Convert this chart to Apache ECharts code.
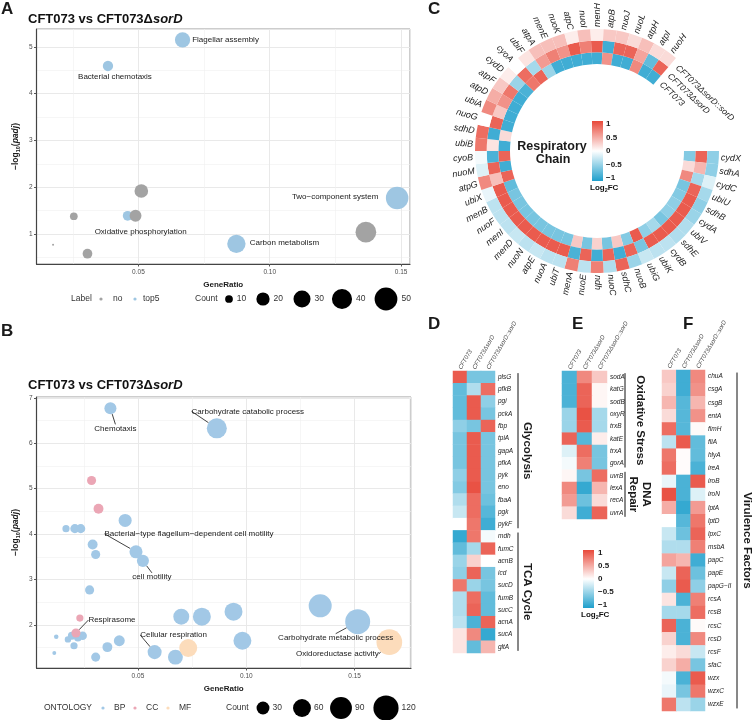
<!DOCTYPE html>
<html><head><meta charset="utf-8"><title>CFT073 vs CFT073 sorD</title>
<script src="https://cdn.jsdelivr.net/npm/echarts@6.0.0/dist/echarts.min.js"></script>
<style>html,body{margin:0;padding:0;background:#fff;}#chart{width:753px;height:720px;}</style>
</head><body><div id="chart"></div>
<script>
// ================= DATA =================
// Panel A: KEGG enrichment
const aTerm = ['Flagellar assembly','Bacterial chemotaxis','','','Oxidative phosphorylation','','','','Carbon metabolism','','Two\u2212component system'];
const aGeneRatio = [0.0668,0.0384,0.0511,0.0254,0.0459,0.0489,0.0175,0.0306,0.0873,0.1366,0.1485];
const aNegLogPadj = [5.15,4.59,1.92,1.38,1.39,1.39,0.77,0.58,0.79,1.04,1.77];
const aCount = [25,14,21,10,13,17,5,13,34,42,49];
const aLabelGroup = ['top5','top5','no','no','top5','no','no','no','top5','no','top5'];
const aLegendCounts = [10,20,30,40,50];

// Panel B: GO enrichment
const bTerm = ['Chemotaxis','Carbohydrate catabolic process','','','','','','','Bacterial\u2212type flagellum\u2212dependent cell motility','cell motility','','','','','','','','','','','','Cellular respiration','','','','','','','Carbohydrate metabolic process','','','','Respirasome','','Oxidoreductase activity'];
const bOntology = ['BP','BP','BP','BP','BP','BP','BP','BP','BP','BP','BP','BP','BP','BP','BP','BP','BP','BP','BP','BP','BP','BP','BP','BP','BP','BP','BP','BP','BP','CC','CC','CC','CC','MF','MF'];
const bGeneRatio = [0.0373,0.0864,0.0441,0.0168,0.0209,0.0236,0.0291,0.0305,0.0491,0.0523,0.0277,0.0123,0.0177,0.0195,0.0223,0.0245,0.0205,0.0114,0.0359,0.0414,0.0305,0.0577,0.0673,0.0700,0.0795,0.0941,0.0982,0.1341,0.1514,0.0286,0.0318,0.0232,0.0214,0.0732,0.1660];
const bNegLogPadj = [6.77,6.33,4.30,4.12,4.12,4.12,3.77,3.55,3.61,3.41,2.77,1.74,1.68,1.76,1.72,1.76,1.54,1.38,1.51,1.65,1.29,1.40,1.29,2.18,2.18,2.29,1.65,2.42,2.07,5.18,4.56,2.15,1.82,1.49,1.62];
const bCount = [26,75,31,8,14,14,17,14,31,26,14,2,6,10,10,12,8,1,17,21,14,36,41,47,60,60,60,100,118,14,17,8,14,60,125];
const bLegendCounts = [30,60,90,120];

// Panel C: respiratory chain ring (clockwise from cydX)
const ringGenes = ['cydX','sdhA','cydC','ubiU','sdhB','cydA','ubiV','sdhE','cydB','ubiK','ubiG','nuoB','sdhC','nuoC','ndh','nuoE','menA','ubiT','nuoA','atpE','nuoN','menD','menI','nuoF','menB','ubiX','atpG','nuoM','cyoB','ubiB','sdhD','nuoG','ubiA','atpD','atpF','cydD','cyoA','ubiF','atpA','menE','nuoK','atpC','nuoI','menH','atpB','nuoJ','nuoL','atpH','atpI','nuoH'];
const ringSamples = ['CFT073','CFT073\u0394sorD','CFT073\u0394sorD::sorD'];
const ringFC_CFT073 = [-0.55,0.2,0.65,-0.6,-0.55,-0.5,-0.5,-0.6,-0.4,-0.5,0.9,-0.55,0.3,-0.6,0.25,-0.6,0.3,-0.6,-0.6,-0.6,-0.6,-0.6,-0.6,-0.6,-0.6,-0.7,0.85,-0.85,0.85,-0.85,0.2,-0.85,-0.85,-0.85,-0.85,-0.8,0.75,0.85,-0.45,-0.85,-0.85,-0.85,-0.85,-0.85,0.6,-0.85,-0.85,0.65,-0.85,-0.85];
const ringFC_dSorD = [0.85,0.4,-0.4,0.85,0.9,0.9,0.9,0.9,0.9,0.9,-0.6,0.85,-0.85,0.85,-0.85,0.85,-0.8,0.9,0.9,0.9,0.9,0.9,0.9,0.9,0.9,0.9,0.35,0.85,-0.8,0.15,-0.85,0.85,0.3,0.6,0.75,-0.45,0.8,-0.4,0.55,0.7,0.6,0.9,0.7,0.9,-0.85,0.85,0.85,0.5,-0.7,0.85];
const ringFC_comp = [-0.5,-0.5,-0.15,-0.4,-0.5,-0.45,-0.35,-0.35,-0.3,-0.3,-0.25,-0.45,0.85,-0.35,0.7,-0.3,0.7,-0.3,-0.3,-0.25,-0.3,-0.25,-0.3,-0.3,-0.3,-0.1,0.65,-0.15,-0.05,0.75,0.8,0.0,0.65,0.45,0.3,0.1,0.0,0.15,0.35,0.35,0.35,0.1,0.35,0.1,0.3,0.3,0.2,0.35,0.2,0.2];

// Panel D: glycolysis / TCA
const hmSamples = ['CFT073','CFT073\u0394sorD','CFT073\u0394sorD::sorD'];
const dGenes = ['plsG','pfkB','pgi','pckA','fbp','tpiA','gapA','pfkA','pyk','eno','fbaA','pgk','pykF','mdh','fumC','acnB','icd','sucD','fumB','sucC','acnA','sucA','gltA'];
const dFC_CFT073 = [0.9,-0.7,-0.7,-0.7,-0.5,-0.6,-0.6,-0.6,-0.5,-0.55,-0.35,-0.25,0.0,-0.9,-0.7,-0.45,-0.5,0.75,-0.35,-0.35,-0.3,0.15,0.15];
const dFC_dSorD = [-0.6,-0.35,0.9,0.9,-0.6,0.9,0.9,0.9,0.9,0.95,0.8,0.8,0.75,0.75,-0.4,0.25,0.85,-0.45,0.8,0.85,-0.8,0.65,-0.7];
const dFC_comp = [-0.6,0.8,-0.5,-0.6,0.85,-0.6,-0.6,-0.6,-0.6,-0.6,-0.65,-0.75,-0.85,-0.05,0.85,0.0,-0.6,-0.6,-0.7,-0.7,0.85,-0.9,0.4];
const dGroups = ['Glycolysis','TCA Cycle'];
const dGroupRows = [[0,12],[13,22]];

// Panel E: oxidative stress / DNA repair
const eGenes = ['sodA','katG','sodB','oxyR','trxB','katE','trxA','gorA','uvrB','lexA','recA','uvrA'];
const eFC_CFT073 = [-0.8,-0.8,-0.8,-0.45,-0.45,0.85,-0.15,-0.05,0.05,0.65,0.55,0.2];
const eFC_dSorD = [0.65,0.85,0.85,0.95,0.9,-0.75,0.8,0.7,-0.6,-0.9,-0.65,-0.85];
const eFC_comp = [0.3,0.05,0.05,-0.4,-0.4,0.1,-0.6,-0.6,0.8,0.4,0.2,0.85];
const eGroups = ['Oxidative Stress','DNA\nRepair'];
const eGroupRows = [[0,7],[8,11]];

// Panel F: virulence factors
const fGenes = ['chuA','csgA','csgB','entA','fimH','fliA','hlyA','ireA','iroB','iroN','lptA','lptD','lpxC','msbA','papC','papE','papG\u2212II','rcsA','rcsB','rcsC','rcsD','rcsF','sfaC','wzx','wzxC','wzxE'];
const fFC_CFT073 = [0.3,0.25,0.4,0.2,0.8,-0.3,0.75,0.8,-0.1,0.95,0.45,0.0,-0.25,-0.35,0.5,-0.25,-0.5,0.15,-0.4,0.85,0.25,0.1,0.25,-0.05,-0.1,0.75];
const fFC_dSorD = [-0.85,-0.85,-0.75,-0.75,-0.75,0.9,0.02,0.02,-0.8,-0.8,-0.9,-0.75,-0.65,-0.35,0.4,0.85,0.9,-0.8,-0.4,-0.8,-0.8,0.2,0.45,-0.8,-0.6,-0.3];
const fFC_comp = [0.65,0.6,0.4,0.6,0.03,-0.7,-0.7,-0.8,0.9,-0.15,0.55,0.75,0.85,0.7,-0.85,-0.65,-0.5,0.7,0.8,0.03,0.65,-0.25,-0.6,0.9,0.75,-0.45];
const fGroups = ['Virulence Factors'];
const fGroupRows = [[0,25]];

const fcLegendTicks = [1,0.5,0,-0.5,-1];

// ================= STYLE / LAYOUT =================
const FONT = '"Liberation Sans", Arial, sans-serif';
const BLUE = '#1e9fcc', RED = '#e8493a';
const COL = {top5:'#9ec6e2', no:'#a3a3a3', BP:'#a2c8e6', CC:'#eba6b5', MF:'#fcdcbb'};
const sizeA = c => Math.sqrt(Math.max(4, 11.5 * c - 55));
const sizeB = c => Math.sqrt(5.2 * c + 10);
const aOffsets = {'Flagellar assembly':[43,0],'Bacterial chemotaxis':[7,11],'Oxidative phosphorylation':[13,16],'Carbon metabolism':[48,-1],'Two\u2212component system':[-62,-1]};
const bOffsets = {'Chemotaxis':[5,20],'Carbohydrate catabolic process':[31,-17],'Bacterial\u2212type flagellum\u2212dependent cell motility':[53,-18],'cell motility':[9,16],'Respirasome':[36,-13],'Cellular respiration':[19,-17],'Carbohydrate metabolic process':[-22,16],'Oxidoreductase activity':[-52,12]};

function hexRgb(h){return [1,3,5].map(i=>parseInt(h.substr(i,2),16));}
function fcColor(v){
  v = Math.max(-1, Math.min(1, v));
  const a = hexRgb(v < 0 ? BLUE : RED), t = Math.abs(v);
  return 'rgb(' + a.map(x => Math.round(255 + (x - 255) * t)).join(',') + ')';
}

const gridA = {left:29, top:29, width:381, height:235};
const gridB = {left:30, top:397, width:381, height:271};
const gridD = {left:453, top:371, width:42, height:282};
const gridE = {left:562, top:371, width:45, height:148};
const gridF = {left:662, top:370, width:43, height:341};

const tickLabel = {fontSize:6.5, color:'#4d4d4d', fontFamily:FONT};
function minorAxis(gi, min, max, step, pos){
  return {gridIndex:gi, type:'value', min, max, minInterval:step, maxInterval:step, position:pos,
    axisLine:{show:false}, axisTick:{show:false}, axisLabel:{show:false},
    splitLine:{show:true, lineStyle:{color:'#f0f0f0', width:0.6}}};
}
const yNameRich = {
  a:{fontSize:8.5, fontWeight:'bold', fontFamily:FONT, color:'#1a1a1a'},
  s:{fontSize:5.5, fontWeight:'bold', fontFamily:FONT, color:'#1a1a1a', padding:[5,0,0,0]},
  i:{fontSize:8.5, fontWeight:'bold', fontStyle:'italic', fontFamily:FONT, color:'#1a1a1a'}
};
function mainX(gi, min, max, step){
  return {gridIndex:gi, type:'value', min, max, minInterval:step, maxInterval:step, position:'bottom',
    name:'GeneRatio', nameLocation:'middle', nameGap:17,
    nameTextStyle:{fontSize:8, fontWeight:'bold', fontFamily:FONT, color:'#1a1a1a'},
    axisLine:{show:true, onZero:false, lineStyle:{color:'#444', width:1.2}},
    axisTick:{show:true, length:2.5, lineStyle:{color:'#555'}},
    axisLabel:Object.assign({formatter:v=>v.toFixed(2), showMinLabel:false, showMaxLabel:false, margin:5}, tickLabel),
    splitLine:{show:true, lineStyle:{color:'#e6e6e6', width:0.8}}};
}
function mainY(gi, min, max){
  return {gridIndex:gi, type:'value', min, max, minInterval:1, maxInterval:1, position:'left',
    name:'{a|\u2212log}{s|10}{a|(}{i|padj}{a|)}', nameLocation:'middle', nameGap:15, nameRotate:90,
    nameTextStyle:{rich:yNameRich},
    axisLine:{show:true, onZero:false, lineStyle:{color:'#444', width:1.2}},
    axisTick:{show:true, length:2.5, lineStyle:{color:'#555'}},
    axisLabel:Object.assign({formatter:v=>String(Math.round(v)), showMinLabel:false, showMaxLabel:false, margin:4}, tickLabel),
    splitLine:{show:true, lineStyle:{color:'#e6e6e6', width:0.8}}};
}
function hmX(gi){
  return {gridIndex:gi, type:'category', data:hmSamples, position:'top',
    axisLine:{show:false}, axisTick:{show:false}, splitLine:{show:false},
    axisLabel:{interval:0, rotate:-60, fontSize:6, fontStyle:'italic', color:'#444', margin:2, fontFamily:FONT}};
}
function hmY(gi, genes){
  return {gridIndex:gi, type:'category', data:genes, inverse:true, position:'right',
    axisLine:{show:false}, axisTick:{show:false}, splitLine:{show:false},
    axisLabel:{interval:0, fontSize:6.5, fontStyle:'italic', color:'#222', margin:3, fontFamily:FONT}};
}

// ================= SERIES =================
const series = [];
function bubble(idxs, color, xs, ys, cs, terms, sizeFn, offsets, withLine, xi, yi){
  series.push({type:'scatter', xAxisIndex:xi, yAxisIndex:yi, silent:true, emphasis:{disabled:true},
    data: idxs.map(i => ({value:[xs[i], ys[i], cs[i]], name:terms[i],
      label:{show:!!terms[i]}, labelLine:{show: withLine && !!terms[i]}})),
    symbolSize: v => sizeFn(v[2]),
    itemStyle:{color, opacity:1},
    label:{position:'inside', formatter:p => p.name, fontSize:8, color:'#1a1a1a', fontFamily:FONT},
    labelLine:{lineStyle:{color:'#111', width:0.8}},
    labelLayout: p => { const o = offsets[terms[idxs[p.dataIndex]]] || [0,0]; return {dx:o[0], dy:o[1]}; },
    z:3});
}
const idxRange = n => Array.from({length:n}, (_, i) => i);
bubble(idxRange(aTerm.length).filter(i => aLabelGroup[i] === 'top5'), COL.top5, aGeneRatio, aNegLogPadj, aCount, aTerm, sizeA, aOffsets, false, 1, 1);
bubble(idxRange(aTerm.length).filter(i => aLabelGroup[i] === 'no'), COL.no, aGeneRatio, aNegLogPadj, aCount, aTerm, sizeA, aOffsets, false, 1, 1);
['BP','CC','MF'].forEach(o => bubble(idxRange(bTerm.length).filter(i => bOntology[i] === o), COL[o], bGeneRatio, bNegLogPadj, bCount, bTerm, sizeB, bOffsets, true, 3, 3));

const heatIdx = [];
function heat(genes, cols, ai){
  const data = [];
  genes.forEach((g, r) => cols.forEach((arr, c) => data.push([c, r, arr[r]])));
  heatIdx.push(series.length);
  series.push({type:'heatmap', xAxisIndex:ai, yAxisIndex:ai, data, silent:true, emphasis:{disabled:true}, itemStyle:{borderWidth:0}});
}
heat(dGenes, [dFC_CFT073, dFC_dSorD, dFC_comp], 4);
heat(eGenes, [eFC_CFT073, eFC_dSorD, eFC_comp], 5);
heat(fGenes, [fFC_CFT073, fFC_dSorD, fFC_comp], 6);

[ringFC_CFT073, ringFC_dSorD, ringFC_comp].forEach(arr => {
  series.push({type:'bar', coordinateSystem:'polar', polarIndex:0, stack:'ring', barCategoryGap:'0%', silent:true,
    emphasis:{disabled:true},
    data: arr.map(v => ({value:1, itemStyle:{color:fcColor(v)}}))});
});
series.push({type:'custom', coordinateSystem:'polar', polarIndex:0, silent:true,
  data: ringGenes.map((g, i) => [3.17, i]),
  renderItem: (params, api) => {
    const p = api.coord([api.value(0), api.value(1)]);
    const cs = params.coordSys;
    const ang = Math.atan2(cs.cy - p[1], p[0] - cs.cx);
    const right = Math.cos(ang) > -0.02;
    const al = right ? 'left' : 'right';
    return {type:'text', x:p[0], y:p[1], rotation: right ? ang : ang + Math.PI,
      style:{text:ringGenes[params.dataIndex], textAlign:al, align:al, textVerticalAlign:'middle', verticalAlign:'middle',
        fontSize:9, fontStyle:'italic', fontFamily:FONT, fill:'#222'}};
  }});
series.push({type:'custom', coordinateSystem:'polar', polarIndex:0, silent:true,
  data: ringSamples.map((s, k) => [k + 0.5, ringGenes.length - 0.3]),
  renderItem: (params, api) => {
    const p = api.coord([api.value(0), api.value(1)]);
    const cs = params.coordSys;
    const ang = Math.atan2(cs.cy - p[1], p[0] - cs.cx);
    return {type:'text', x:p[0], y:p[1], rotation: ang - Math.PI / 2,
      style:{text:ringSamples[params.dataIndex], textAlign:'left', align:'left', textVerticalAlign:'middle', verticalAlign:'middle',
        fontSize:8.5, fontStyle:'italic', fontFamily:FONT, fill:'#222'}};
  }});

// ================= GRAPHIC =================
const G = [];
function T(x, y, text, st, rot){
  const s = Object.assign({text, fill:'#1a1a1a', fontFamily:FONT, fontSize:8, textAlign:'left', textVerticalAlign:'middle'}, st || {});
  s.align = s.textAlign; s.verticalAlign = s.textVerticalAlign;
  G.push({type:'text', x, y, rotation:rot || 0, style:s, silent:true, z:10});
}
function C(x, y, r, fill){ G.push({type:'circle', shape:{cx:x, cy:y, r}, style:{fill}, silent:true, z:10}); }
function L(x1, y1, x2, y2){ G.push({type:'line', shape:{x1, y1, x2, y2}, style:{stroke:'#111', lineWidth:1}, silent:true, z:10}); }
const titleRich = {b:{fontSize:13, fontWeight:'bold', fontFamily:FONT, fill:'#111'}, bi:{fontSize:13, fontWeight:'bold', fontStyle:'italic', fontFamily:FONT, fill:'#111'}};
T(1, 9, 'A', {fontSize:17, fontWeight:'bold'});
T(1, 331, 'B', {fontSize:17, fontWeight:'bold'});
T(428, 9, 'C', {fontSize:17, fontWeight:'bold'});
T(428, 324, 'D', {fontSize:17, fontWeight:'bold'});
T(572, 324, 'E', {fontSize:17, fontWeight:'bold'});
T(683, 324, 'F', {fontSize:17, fontWeight:'bold'});
G.push({type:'text', x:28, y:19, silent:true, style:{text:'{b|CFT073 vs CFT073\u0394}{bi|sorD}', rich:titleRich, textVerticalAlign:'middle', verticalAlign:'middle'}});
G.push({type:'text', x:28, y:385, silent:true, style:{text:'{b|CFT073 vs CFT073\u0394}{bi|sorD}', rich:titleRich, textVerticalAlign:'middle', verticalAlign:'middle'}});
T(71, 299, 'Label', {fontSize:8.5, fill:'#333'});
C(101, 299, 1.6, COL.no); T(113, 299, 'no', {fontSize:8.5, fill:'#333'});
C(135, 299, 1.6, COL.top5); T(143, 299, 'top5', {fontSize:8.5, fill:'#333'});
T(195, 299, 'Count', {fontSize:8.5, fill:'#333'});
const aLegX = [229, 263, 302, 342, 386];
aLegendCounts.forEach((c, k) => { const r = sizeA(c) / 2; C(aLegX[k], 299, r, '#000'); T(aLegX[k] + r + 4, 299, String(c), {fontSize:8.5, fill:'#333'}); });
T(44, 708, 'ONTOLOGY', {fontSize:8.5, fill:'#333'});
C(103, 708, 1.6, COL.BP); T(114, 708, 'BP', {fontSize:8.5, fill:'#333'});
C(135, 708, 1.6, COL.CC); T(146, 708, 'CC', {fontSize:8.5, fill:'#333'});
C(168, 708, 1.6, COL.MF); T(179, 708, 'MF', {fontSize:8.5, fill:'#333'});
T(226, 708, 'Count', {fontSize:8.5, fill:'#333'});
const bLegX = [263, 302, 341, 386];
bLegendCounts.forEach((c, k) => { const r = sizeB(c) / 2; C(bLegX[k], 708, r, '#000'); T(bLegX[k] + r + 3, 708, String(c), {fontSize:8.5, fill:'#333'}); });
T(552, 147, 'Respiratory', {fontSize:12.5, fontWeight:'bold', textAlign:'center'});
T(553, 160, 'Chain', {fontSize:12.5, fontWeight:'bold', textAlign:'center'});
function colorBar(x, y, w, h, labX){
  G.push({type:'rect', shape:{x, y, width:w, height:h}, silent:true, z:10,
    style:{fill:{type:'linear', x:0, y:0, x2:0, y2:1, colorStops:[{offset:0, color:RED},{offset:0.5, color:'#ffffff'},{offset:1, color:BLUE}]}}});
  const inset = h * 0.05;
  fcLegendTicks.forEach(v => T(labX, y + inset + (1 - v) / 2 * (h - 2 * inset), v < 0 ? '\u2212' + Math.abs(v) : String(v), {fontSize:8, fontWeight:'bold'}));
  G.push({type:'text', x:x - 2, y:y + h + 7, silent:true, z:10,
    style:{text:'{b|Log}{s|2}{b|FC}', textVerticalAlign:'middle', verticalAlign:'middle',
      rich:{b:{fontSize:8, fontWeight:'bold', fontFamily:FONT, fill:'#111'}, s:{fontSize:5.5, fontWeight:'bold', fontFamily:FONT, fill:'#111', padding:[4,0,0,0]}}}});
}
colorBar(592, 121, 11, 60, 606);
colorBar(583, 550, 11, 58, 598);
function groups(grid, nRows, names, rows, lineX, textX){
  const rh = grid.height / nRows;
  names.forEach((n, k) => {
    const y1 = grid.top + (rows[k][0] + 0.5) * rh, y2 = grid.top + (rows[k][1] + 0.5) * rh;
    L(lineX, y1 - 4, lineX, y2 + 4);
    T(textX, (y1 + y2) / 2, n, {fontSize:11.5, fontWeight:'bold', textAlign:'center', lineHeight:13}, -Math.PI / 2);
  });
}
groups(gridD, dGenes.length, dGroups, dGroupRows, 518, 527);
groups(gridE, eGenes.length, eGroups, eGroupRows, 625, 640);
groups(gridF, fGenes.length, fGroups, fGroupRows, 737, 747);

// ================= OPTION =================
const option = {
  animation:false,
  backgroundColor:'#fff',
  textStyle:{fontFamily:FONT},
  grid:[
    Object.assign({show:true, borderColor:'#9a9a9a', borderWidth:1, backgroundColor:'#fff'}, gridA),
    Object.assign({show:true, borderColor:'#9a9a9a', borderWidth:1, backgroundColor:'#fff'}, gridB),
    gridD, gridE, gridF
  ],
  xAxis:[
    minorAxis(0, 0.0112, 0.1534, 0.025, 'top'),
    mainX(0, 0.0112, 0.1534, 0.05),
    minorAxis(1, 0.0032, 0.176, 0.025, 'top'),
    mainX(1, 0.0032, 0.176, 0.05),
    hmX(2), hmX(3), hmX(4)
  ],
  yAxis:[
    minorAxis(0, 0.36, 5.38, 0.5, 'right'),
    mainY(0, 0.36, 5.38),
    minorAxis(1, 1.05, 7.02, 0.5, 'right'),
    mainY(1, 1.05, 7.02),
    hmY(2, dGenes), hmY(3, eGenes), hmY(4, fGenes)
  ],
  polar:{center:[597, 151], radius:[87, 122]},
  angleAxis:{type:'category', data: ringGenes.concat(Array.from({length:8}, (_, i) => ' '.repeat(i + 1))),
    startAngle:0, clockwise:true, boundaryGap:true,
    axisLine:{show:false}, axisTick:{show:false}, axisLabel:{show:false}, splitLine:{show:false}},
  radiusAxis:{type:'value', min:0, max:3, axisLine:{show:false}, axisTick:{show:false}, axisLabel:{show:false}, splitLine:{show:false}},
  visualMap:{type:'continuous', show:false, min:-1, max:1, seriesIndex:heatIdx, dimension:2,
    inRange:{color:[BLUE, '#ffffff', RED]}},
  series,
  graphic:{elements:G}
};
const chart = echarts.init(document.getElementById('chart'), null, {renderer:'canvas'});
chart.setOption(option);
</script></body></html>
